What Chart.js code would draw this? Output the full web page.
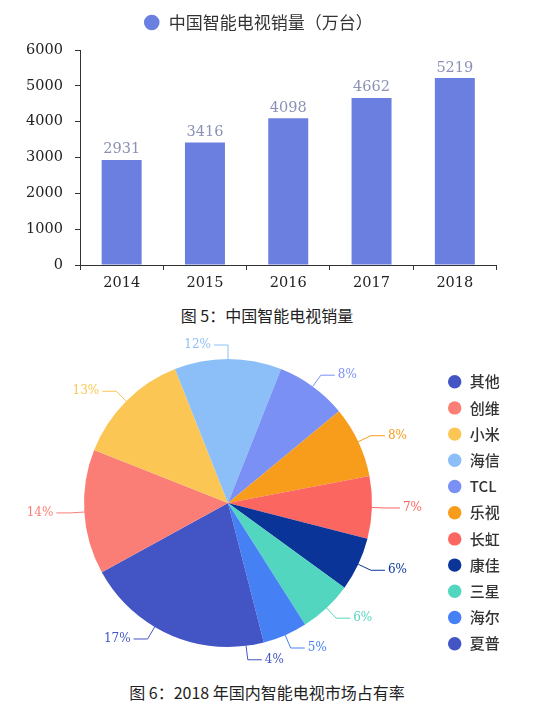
<!DOCTYPE html>
<html>
<head>
<meta charset="utf-8">
<script src="https://cdn.jsdelivr.net/npm/chart.js@4.4.1/dist/chart.umd.min.js"></script>
<style>
    body { margin: 0; background: #fff; }
    #wrap { position: relative; width: 550px; height: 714px; }
    canvas { position: absolute; left: 0; }
    .caption {
        position: absolute; left: 0; width: 534px; text-align: center;
        font-family: "Noto Sans CJK SC", sans-serif; font-size: 16px; line-height: 20px; color: #222;
    }
</style>
</head>
<body>
<div id="wrap">
    <canvas id="salesChart" width="550" height="300" style="top:0"></canvas>
    <div class="caption" style="top:305px">图 5：中国智能电视销量</div>
    <canvas id="shareChart" width="550" height="340" style="top:335px"></canvas>
    <div class="caption" style="top:682px">图 6：2018 年国内智能电视市场占有率</div>
</div>
<script>
// bar chart data
const years = ['2014', '2015', '2016', '2017', '2018'];
const sales = [2931, 3416, 4098, 4662, 5219];
const salesLabel = '中国智能电视销量（万台）';

// pie chart data (2018 market share, %)
const brands = ['其他', '创维', '小米', '海信', 'TCL', '乐视', '长虹', '康佳', '三星', '海尔', '夏普'];
const shares = [17, 14, 13, 12, 8, 8, 7, 6, 6, 5, 4];

const brandColors = ['#4355c4', '#fb7e76', '#fbc653', '#8cbff8', '#7a90f5', '#f89c1c',
    '#fb6660', '#0b3499', '#52d6c0', '#4680f5', '#4355c4'];

const serif = '"DejaVu Serif", serif';
const cjk = '"Noto Sans CJK SC", sans-serif';

// Force a legend box size so the plot area lands where it should.
// The side legend keeps all items in one column and may run below the pie.
function legendSize(height, width) {
    return {
        id: 'legendSize',
        beforeInit(chart) {
            if (!chart.legend) return;
            const fit = chart.legend.fit;
            chart.legend.fit = function () {
                if (width) this.maxHeight = 2000;
                fit.call(this);
                if (height) this.height = height;
                if (width) this.width = width;
            };
        },
        afterLayout(chart) {
            if (width && chart.legend) chart.legend.bottom = chart.height;
        }
    };
}

// value labels above the bars
const barValues = {
    id: 'barValues',
    afterDatasetsDraw(chart) {
        const ctx = chart.ctx;
        const meta = chart.getDatasetMeta(0);
        ctx.save();
        ctx.font = '14.5px ' + serif;
        ctx.fillStyle = '#8b91b5';
        ctx.textAlign = 'center';
        ctx.textBaseline = 'bottom';
        meta.data.forEach((bar, i) => {
            ctx.fillText(String(chart.data.datasets[0].data[i]), bar.x, bar.y - 3);
        });
        ctx.restore();
    }
};

// percent labels with leader lines outside the pie
const pieLabels = {
    id: 'pieLabels',
    afterDatasetsDraw(chart) {
        const ctx = chart.ctx;
        const meta = chart.getDatasetMeta(0);
        const values = chart.data.datasets[0].data;
        const colors = chart.data.datasets[0].backgroundColor;
        ctx.save();
        ctx.font = '12px ' + serif;
        ctx.textBaseline = 'middle';
        ctx.lineWidth = 1;
        meta.data.forEach((arc, i) => {
            const mid = (arc.startAngle + arc.endAngle) / 2;
            const cos = Math.cos(mid), sin = Math.sin(mid);
            const r = arc.outerRadius;
            const x0 = arc.x + cos * r, y0 = arc.y + sin * r;
            const x1 = arc.x + cos * (r + 14), y1 = arc.y + sin * (r + 14);
            const dir = cos > 0.01 ? 1 : -1;
            const x2 = x1 + dir * 14;
            ctx.strokeStyle = colors[i];
            ctx.beginPath();
            ctx.moveTo(x0, y0);
            ctx.lineTo(x1, y1);
            ctx.lineTo(x2, y1);
            ctx.stroke();
            ctx.fillStyle = colors[i];
            ctx.textAlign = dir > 0 ? 'left' : 'right';
            ctx.fillText(values[i] + '%', x2 + dir * 3, y1);
        });
        ctx.restore();
    }
};

new Chart(document.getElementById('salesChart'), {
    type: 'bar',
    data: {
        labels: years,
        datasets: [{
            label: salesLabel,
            data: sales,
            backgroundColor: '#6a7fe0',
            borderWidth: 0,
            categoryPercentage: 1,
            barPercentage: 0.48
        }]
    },
    options: {
        responsive: false,
        animation: false,
        layout: { padding: { left: 19.5, right: 53.5, top: 4, bottom: 5 } },
        plugins: {
            legend: {
                position: 'top',
                labels: {
                    usePointStyle: true,
                    pointStyle: 'circle',
                    boxHeight: 11,
                    padding: 10,
                    color: '#333',
                    font: { family: cjk, size: 17 }
                }
            },
            tooltip: { enabled: false }
        },
        scales: {
            x: {
                afterFit: axis => { axis.height = 30; },
                border: { display: true, color: '#333', width: 1 },
                grid: { drawOnChartArea: false, drawTicks: true, tickLength: 5, color: '#333' },
                ticks: { color: '#222', padding: 5, font: { family: serif, size: 14.5 } }
            },
            y: {
                min: 0,
                max: 6000,
                afterFit: axis => { axis.width = 60.5; },
                border: { display: true, color: '#333', width: 1 },
                grid: { drawOnChartArea: false, drawTicks: true, tickLength: 5, color: '#333' },
                ticks: {
                    stepSize: 1000,
                    color: '#222',
                    padding: 12,
                    font: { family: serif, size: 14.5 },
                    callback: v => String(v)
                }
            }
        }
    },
    plugins: [legendSize(46), barValues]
});

new Chart(document.getElementById('shareChart'), {
    type: 'pie',
    data: {
        labels: brands,
        datasets: [{
            data: shares,
            backgroundColor: brandColors,
            borderWidth: 0
        }]
    },
    options: {
        responsive: false,
        animation: false,
        rotation: 180,
        radius: 144,
        layout: { padding: { left: 20, right: 34, top: 28, bottom: 32 } },
        plugins: {
            legend: {
                position: 'right',
                align: 'start',
                labels: {
                    usePointStyle: true,
                    pointStyle: 'circle',
                    boxHeight: 9.5,
                    padding: 11.2,
                    color: '#333',
                    font: { family: cjk, size: 15, weight: '500' }
                }
            },
            tooltip: { enabled: false }
        }
    },
    plugins: [legendSize(0, 80), pieLabels]
});
</script>
</body>
</html>
